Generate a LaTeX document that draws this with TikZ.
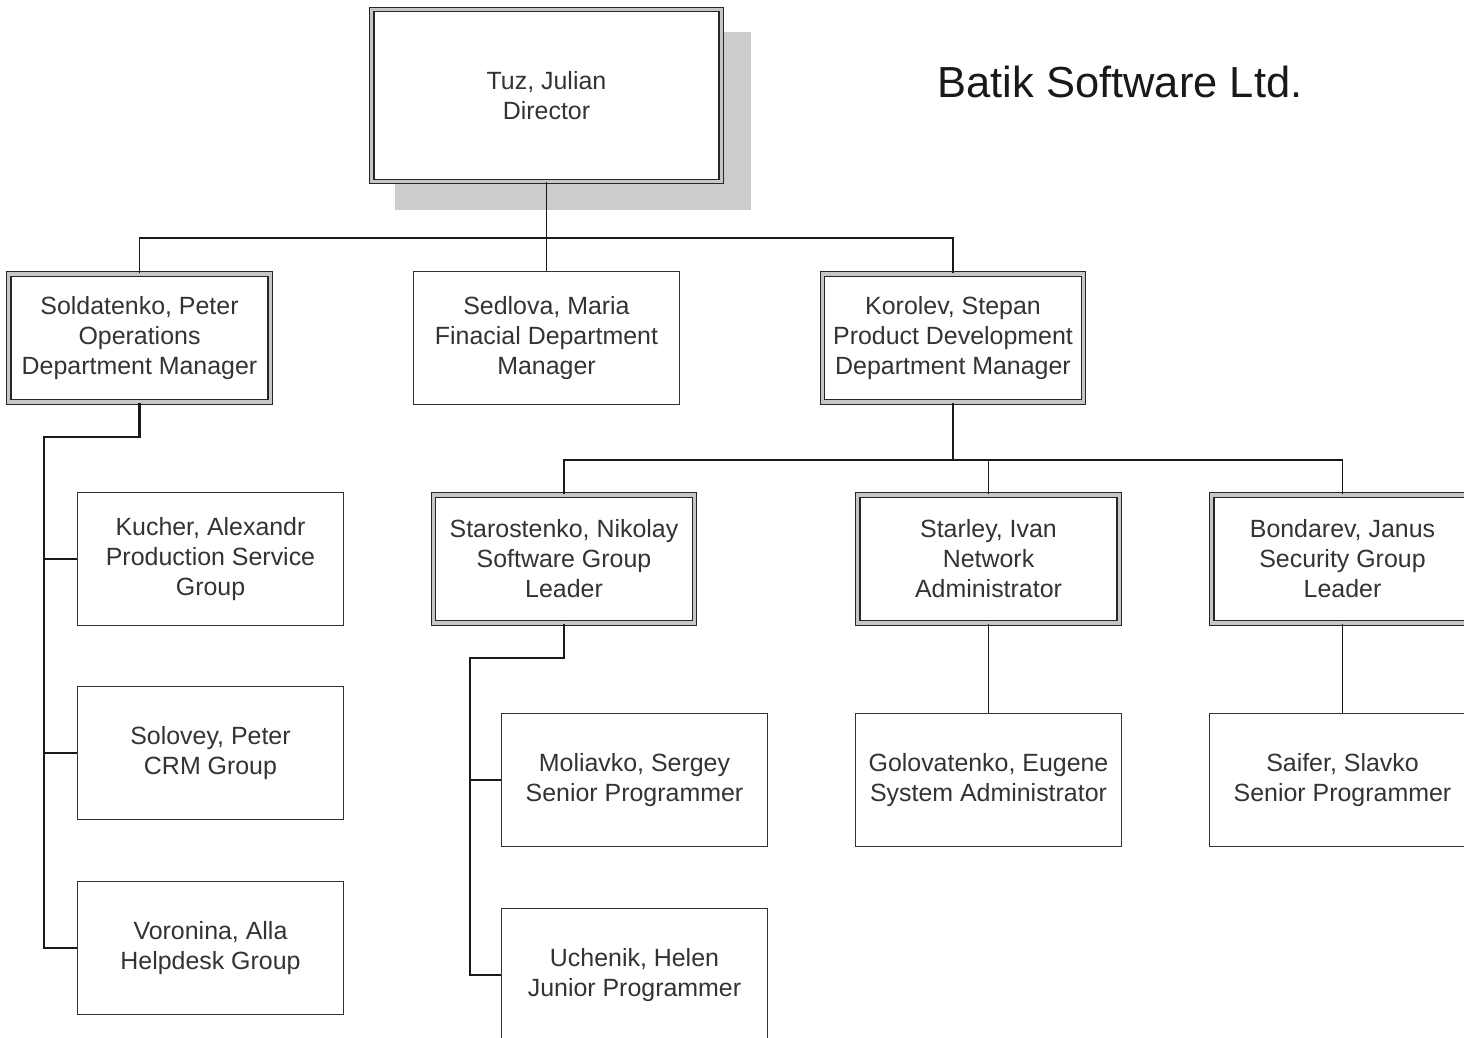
\documentclass[tikz,border=0pt]{standalone}
\usepackage{fontspec}
\setmainfont{Liberation Sans}
\begin{document}
\begin{tikzpicture}[x=0.75pt,y=-0.75pt,
  txt/.style={text=black!80, align=center, font=\fontsize{18.7}{22.5}\selectfont},
  sbox/.style={txt, draw=black!80, line width=1.1pt, fill=white, minimum width=199.5pt, minimum height=99.5pt, inner sep=0pt},
  dbox/.style={txt, draw=black!85, line width=0.9pt, double=gray!45, double distance=2.4pt, fill=white, minimum width=196pt, minimum height=96pt, inner sep=0pt},
  conn/.style={draw=black!90, line width=1.4pt},
  bconn/.style={draw=black!90, line width=1.8pt}]
\useasboundingbox (0,0) rectangle (1464,1038);
\clip (0,0) rectangle (1464,1038);
% shadow
\fill[gray!40] (395,32) rectangle (751,210);
\node[dbox, minimum width=262pt, minimum height=129pt] (dir) at (546.5,95.5) {Tuz, Julian\\Director};
\node[text=black!90, font=\fontsize{32.6}{38}\selectfont] (title) at (1120,82) {Batik Software Ltd.};

\node[dbox] (sold) at (139.5,338) {Soldatenko, Peter\\Operations\\Department Manager};
\node[sbox] (sed) at (546.5,338) {Sedlova, Maria\\Finacial Department\\Manager};
\node[dbox] (kor) at (953,338) {Korolev, Stepan\\Product Development\\Department Manager};

\node[sbox] (kuch) at (210.5,559) {Kucher, Alexandr\\Production Service\\Group};
\node[sbox] (sol) at (210.5,753) {Solovey, Peter\\CRM Group};
\node[sbox] (vor) at (210.5,948) {Voronina, Alla\\Helpdesk Group};

\node[dbox] (staro) at (564,559) {Starostenko, Nikolay\\Software Group\\Leader};
\node[dbox] (starl) at (988.5,559) {Starley, Ivan\\Network\\Administrator};
\node[dbox] (bond) at (1342.5,559) {Bondarev, Janus\\Security Group\\Leader};

\node[sbox] (mol) at (634.5,780) {Moliavko, Sergey\\Senior Programmer};
\node[sbox] (gol) at (988.5,780) {Golovatenko, Eugene\\System Administrator};
\node[sbox] (sai) at (1342.5,780) {Saifer, Slavko\\Senior Programmer};
\node[sbox] (uch) at (634.5,975) {Uchenik, Helen\\Junior Programmer};

% top level
\coordinate (busA) at (546.5,238);
\draw[conn] (dir.south) -- (sed.north);
\draw[conn] (sold.north) |- (busA) -| (kor.north);

% operations branch
\coordinate (sa) at (44,437);
\draw[bconn] (sold.south) |- (sa) |- (vor.west);
\draw[conn] (sa |- kuch.west) -- (kuch.west);
\draw[conn] (sa |- sol.west) -- (sol.west);

% product development branch
\coordinate (busB) at (953,460);
\draw[bconn] (kor.south) -- (busB);
\draw[conn] (staro.north) |- (busB) -| (bond.north);
\draw[conn] (starl.north) -- (starl.north |- busB);

% software group
\coordinate (sb) at (470,658);
\draw[bconn] (staro.south) |- (sb) |- (uch.west);
\draw[conn] (sb |- mol.west) -- (mol.west);

\draw[conn] (starl.south) -- (gol.north);
\draw[conn] (bond.south) -- (sai.north);
\end{tikzpicture}
\end{document}
